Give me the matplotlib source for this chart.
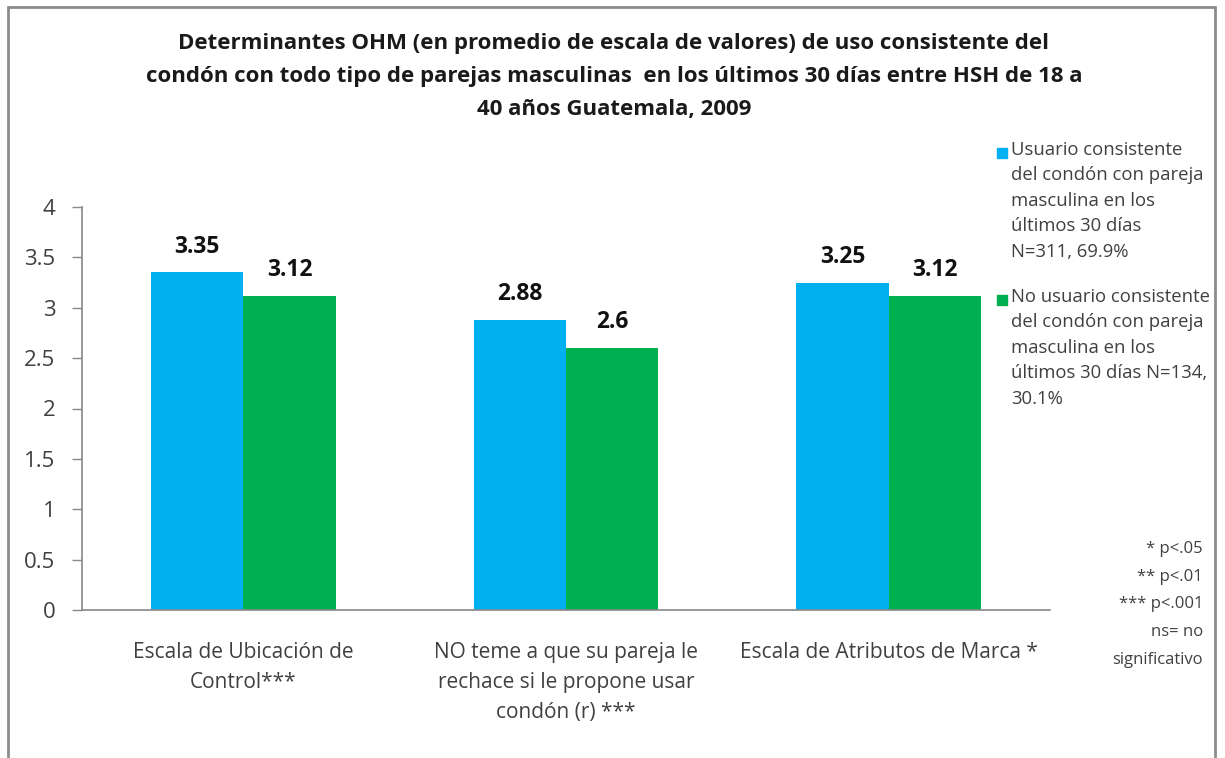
import numpy as np
import matplotlib.pyplot as plt
from matplotlib.patches import Rectangle

plt.rcParams['font.family'] = ['Open Sans', 'DejaVu Sans']

# Data
categories = [
    "Escala de Ubicación de\nControl***",
    "NO teme a que su pareja le\nrechace si le propone usar\ncondón (r) ***",
    "Escala de Atributos de Marca *",
]
usuario = [3.35, 2.88, 3.25]
no_usuario = [3.12, 2.6, 3.12]
usuario_lbl = ["3.35", "2.88", "3.25"]
no_usuario_lbl = ["3.12", "2.6", "3.12"]
yticks = [0, 0.5, 1, 1.5, 2, 2.5, 3, 3.5, 4]
ytick_labels = ["0", "0.5", "1", "1.5", "2", "2.5", "3", "3.5", "4"]

legend_labels = [
    "Usuario consistente\ndel condón con pareja\nmasculina en los\núltimos 30 días\nN=311, 69.9%",
    "No usuario consistente\ndel condón con pareja\nmasculina en los\núltimos 30 días N=134,\n30.1%",
]
notes = "* p<.05\n** p<.01\n*** p<.001\nns= no\nsignificativo"
title = ("Determinantes OHM (en promedio de escala de valores) de uso consistente del\n"
         "condón con todo tipo de parejas masculinas  en los últimos 30 días entre HSH de 18 a\n"
         "40 años Guatemala, 2009")

blue = "#00B0F0"
green = "#00B050"
txt = "#404040"

W, H = 1225, 758
fig = plt.figure(figsize=(W / 100, H / 100), dpi=100)
ax = fig.add_axes([82 / W, 1 - 610 / H, (1050 - 82) / W, (610 - 207) / H])

x = np.arange(len(categories))
bw = 0.286
b1 = ax.bar(x - bw / 2, usuario, bw, color=blue)
b2 = ax.bar(x + bw / 2, no_usuario, bw, color=green)
ax.bar_label(b1, labels=usuario_lbl, padding=10, fontsize=16.5, fontweight="bold", color="#111111")
ax.bar_label(b2, labels=no_usuario_lbl, padding=10, fontsize=16.5, fontweight="bold", color="#111111")

ax.set_xlim(-0.5, 2.5)
ax.set_ylim(0, 4)
ax.set_yticks(yticks)
ax.set_yticklabels(ytick_labels)
ax.set_xticks(x)
ax.set_xticklabels(categories, fontsize=15, color=txt, linespacing=1.55)
ax.tick_params(axis="x", length=0, pad=23)
ax.tick_params(axis="y", length=7, width=1, color="#888888", pad=12, labelsize=16, labelcolor=txt)
for s in ["top", "right"]:
    ax.spines[s].set_visible(False)
for s in ["left", "bottom"]:
    ax.spines[s].set_color("#888888")
    ax.spines[s].set_linewidth(1.2)

fig.text(614 / W, 1 - 33 / H, title, ha="center", va="top", fontsize=16, fontweight="bold",
         color="#1a1a1a", linespacing=1.75)

# legend drawn by hand
leg_y = [141, 288]
for lab, col, yy in zip(legend_labels, [blue, green], leg_y):
    fig.patches.append(Rectangle((997 / W, 1 - (yy + 17) / H), 10 / W, 10 / H,
                                 transform=fig.transFigure, color=col))
    fig.text(1011 / W, 1 - yy / H, lab, ha="left", va="top", fontsize=13.3, color=txt,
             linespacing=1.53)

fig.text(1203 / W, 1 - 541 / H, notes, ha="right", va="top", fontsize=12, color=txt,
         linespacing=1.97)

# outer frame
fig.patches.append(Rectangle((8 / W, -0.05), (1215 - 8) / W, 1 - 7 / H + 0.05,
                             transform=fig.transFigure, fill=False, edgecolor="#8c8c8c", lw=2))

fig.savefig("out.png", dpi=100)
